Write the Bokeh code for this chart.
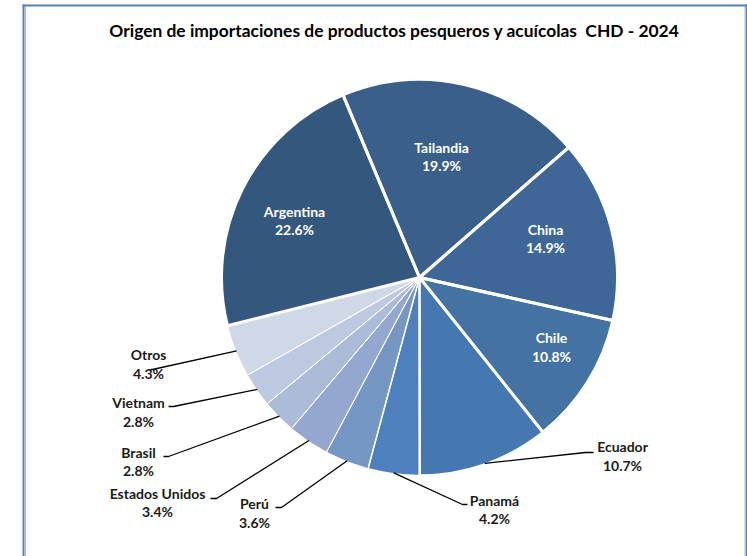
import math
from bokeh.plotting import figure
from bokeh.models import Range1d, ColumnDataSource
from bokeh.core.properties import value
from bokeh.embed import file_html
from bokeh.resources import INLINE

# ---------------- data ----------------
categories = ["Argentina", "Tailandia", "China", "Chile", "Ecuador", "Panamá",
              "Perú", "Estados Unidos", "Brasil", "Vietnam", "Otros"]
shares = [22.6, 19.9, 14.9, 10.8, 10.7, 4.2, 3.6, 3.4, 2.8, 2.8, 4.3]
title_text = "Origen de importaciones de productos pesqueros y acuícolas\u00a0 CHD - 2024"

# ---------------- styles / layout ----------------
colors = ["#34577e", "#3a5f8b", "#3e6797", "#4472a3", "#4577b0", "#4d80bc",
          "#7696c4", "#94a8cf", "#acbcd8", "#bdc9e0", "#cfd8e7"]
border_w = [3, 3, 3, 3, 2.5, 1.5, 1, 1, 1, 1, 1]
inside = [True, True, True, True, False, False, False, False, False, False, False]
# label centres (screen px): x, y of name line, y of percent line
label_pos = {
    "Argentina": (294, 211, 229),
    "Tailandia": (441, 147, 165),
    "China": (545, 229, 247),
    "Chile": (551, 337, 356),
    "Ecuador": (622, 446, 465),
    "Panamá": (494, 500, 518),
    "Perú": (254, 503, 522),
    "Estados Unidos": (157, 493, 511),
    "Brasil": (138, 452, 470),
    "Vietnam": (138, 402, 421),
    "Otros": (148, 354, 373),
}
# leader elbows (screen px): elbow x, elbow y, tail x
leader = {
    "Ecuador": (585, 452, 593),
    "Panamá": (462, 504, 467),
    "Perú": (281, 507, 275),
    "Estados Unidos": (216, 498, 210),
    "Brasil": (168, 456, 163),
    "Vietnam": (173, 406, 168),
    "Otros": (152, 369, 150),
}

W, H = 747, 556
CX, CY = 419, 277      # pie centre (screen)
R = 198
START = 255.9          # compass angle (clockwise from 12 o'clock) of first slice
FONT = "Lato"


def Y(ys):
    return H - ys


p = figure(width=W, height=H, x_range=Range1d(0, W), y_range=Range1d(0, H),
           output_backend="svg", toolbar_location=None, min_border=0,
           background_fill_color="white", border_fill_color="white")
p.axis.visible = False
p.grid.visible = False
p.outline_line_color = None

# ---- frame ----
p.line([23, 23], [Y(4), -5], line_color="#4f81bd", line_width=2)
p.line([25, 25], [Y(6), -5], line_color="#b8b8b8", line_width=1)
p.line([746, 746], [Y(4), -5], line_color="#4f81bd", line_width=2)
p.line([744.5, 744.5], [Y(6), -5], line_color="#b8b8b8", line_width=1)
p.line([22, 747], [Y(5), Y(5)], line_color="#4f81bd", line_width=2)

# ---- wedges ----
cum = 0.0
starts, ends, mids = [], [], []
for v in shares:
    a0 = START + 3.6 * cum
    cum += v
    a1 = START + 3.6 * cum
    starts.append(math.radians(90 - a0))
    ends.append(math.radians(90 - a1))
    mids.append((a0 + a1) / 2)

src = ColumnDataSource(dict(cat=categories, start=starts, end=ends, color=colors, lw=border_w,
                            x=[CX] * len(shares), y=[Y(CY)] * len(shares)))
p.wedge(x="x", y="y", radius=R, start_angle="start", end_angle="end", direction="clock",
        fill_color="color", line_color=None, source=src)
p.wedge(x="x", y="y", radius=R, start_angle="start", end_angle="end", direction="clock",
        fill_color=None, line_color="white", line_width="lw", source=src)

# ---- leader lines ----
xs, ys = [], []
for cat, m in zip(categories, mids):
    if cat in leader:
        ex, ey, tx = leader[cat]
        sx = CX + (R - 1) * math.sin(math.radians(m))
        sy = CY - (R - 1) * math.cos(math.radians(m))
        xs.append([sx, ex, tx])
        ys.append([Y(sy), Y(ey), Y(ey)])
p.multi_line(xs, ys, line_color="black", line_width=1.3)

# ---- labels ----
tx, ty, tt, tc = [], [], [], []
for cat, v, ins in zip(categories, shares, inside):
    lx, ly1, ly2 = label_pos[cat]
    col = "white" if ins else "#1a1a1a"
    tx += [lx, lx]
    ty += [Y(ly1), Y(ly2)]
    tt += [cat, f"{v:.1f}%"]
    tc += [col, col]
p.text(x=tx, y=ty, text=tt, text_color=tc, text_align="center", text_baseline="middle",
       text_font=value(FONT), text_font_style="bold", text_font_size="14px")

# ---- title ----
p.text(x=[394], y=[Y(30)], text=[title_text], text_align="center", text_baseline="middle",
       text_font=value(FONT), text_font_style="bold", text_font_size="17.4px", text_color="black")

open("out.html", "w").write(file_html(p, INLINE))
